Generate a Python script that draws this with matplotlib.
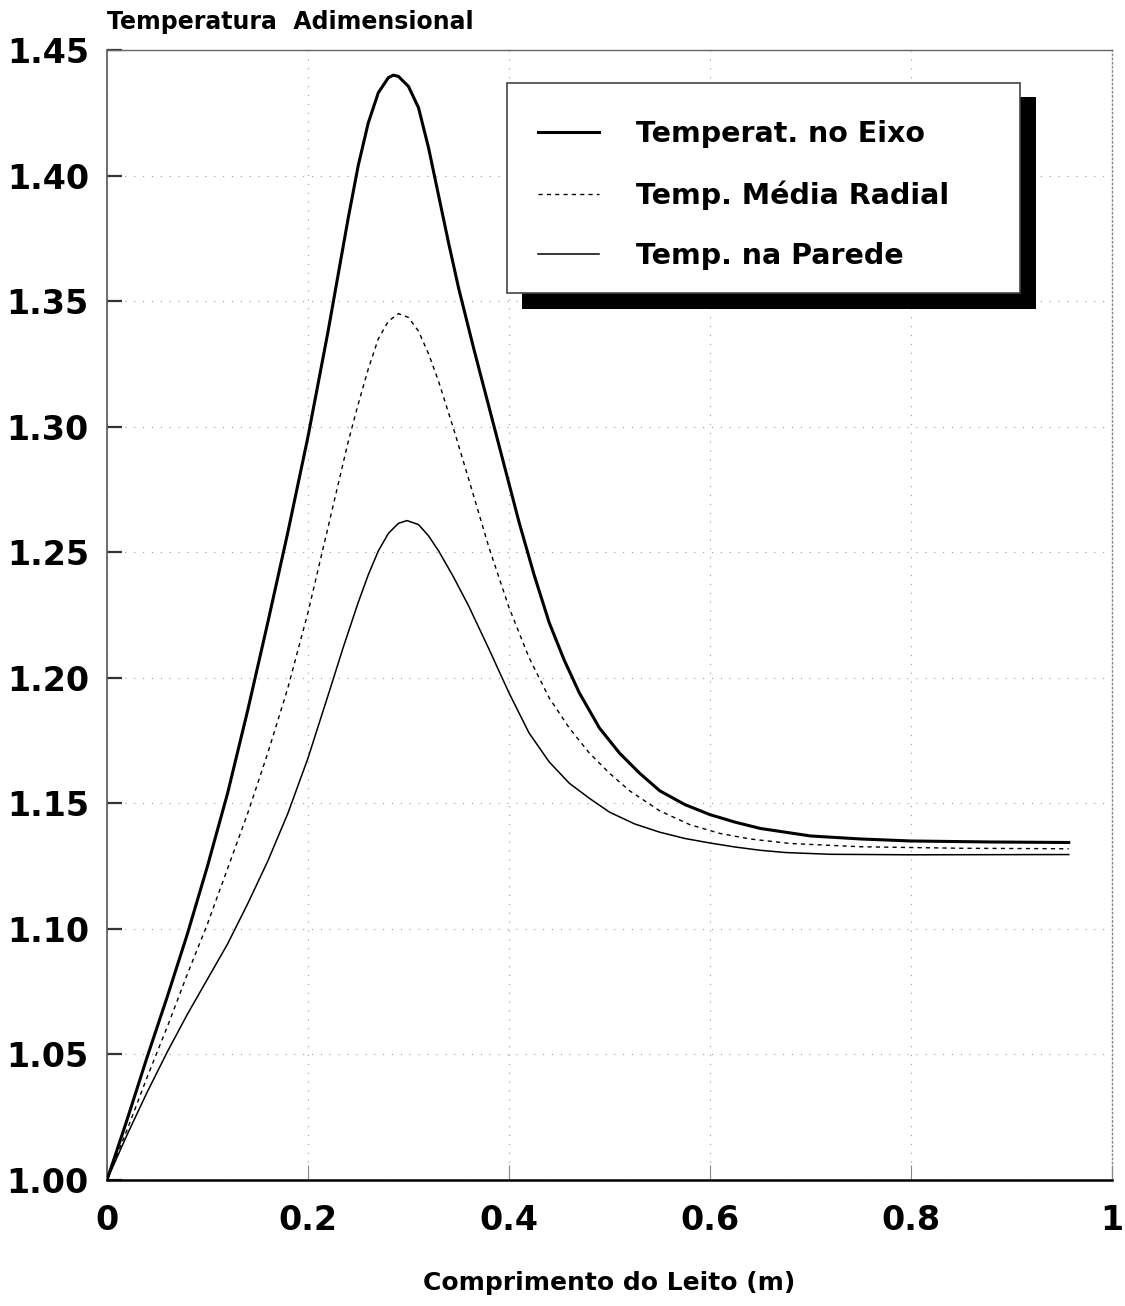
import matplotlib.pyplot as plt
from matplotlib.patches import Rectangle

# perfis axiais de temperatura adimensional no leito
z_eixo = [0.000, 0.020, 0.040, 0.060, 0.080, 0.100, 0.120, 0.140, 0.160, 0.180,
          0.200, 0.220, 0.240, 0.250, 0.260, 0.270, 0.280, 0.285, 0.290, 0.300,
          0.310, 0.320, 0.330, 0.340, 0.350, 0.365, 0.380, 0.395, 0.410, 0.425,
          0.440, 0.455, 0.470, 0.490, 0.510, 0.530, 0.550, 0.575, 0.600, 0.625,
          0.650, 0.700, 0.750, 0.800, 0.880, 0.957]
t_eixo = [1.000, 1.024, 1.049, 1.073, 1.098, 1.125, 1.154, 1.187, 1.222, 1.258,
          1.296, 1.338, 1.383, 1.404, 1.421, 1.433, 1.439, 1.440, 1.4395, 1.4355,
          1.427, 1.411, 1.392, 1.373, 1.355, 1.331, 1.308, 1.285, 1.262, 1.241,
          1.222, 1.207, 1.194, 1.180, 1.170, 1.162, 1.155, 1.1495, 1.1455, 1.1425,
          1.140, 1.137, 1.1358, 1.135, 1.1346, 1.1344]

z_media = [0.000, 0.020, 0.040, 0.060, 0.080, 0.100, 0.120, 0.140, 0.160, 0.180,
           0.200, 0.220, 0.240, 0.250, 0.260, 0.270, 0.280, 0.290, 0.300, 0.310,
           0.320, 0.330, 0.345, 0.360, 0.380, 0.400, 0.420, 0.440, 0.460, 0.480,
           0.500, 0.520, 0.550, 0.580, 0.610, 0.640, 0.680, 0.750, 0.850, 0.957]
t_media = [1.000, 1.020, 1.041, 1.061, 1.082, 1.102, 1.124, 1.146, 1.170, 1.196,
           1.226, 1.260, 1.294, 1.309, 1.323, 1.335, 1.342, 1.345, 1.3435, 1.338,
           1.329, 1.318, 1.299, 1.279, 1.252, 1.228, 1.208, 1.192, 1.180, 1.170,
           1.162, 1.155, 1.147, 1.1415, 1.138, 1.1358, 1.134, 1.1327, 1.1321, 1.1319]

z_parede = [0.000, 0.020, 0.040, 0.060, 0.080, 0.100, 0.120, 0.140, 0.160, 0.180,
            0.200, 0.220, 0.235, 0.250, 0.260, 0.270, 0.280, 0.290, 0.2985, 0.310,
            0.320, 0.330, 0.345, 0.360, 0.380, 0.400, 0.420, 0.440, 0.460, 0.480,
            0.500, 0.525, 0.550, 0.575, 0.600, 0.625, 0.650, 0.675, 0.720, 0.800,
            0.957]
t_parede = [1.000, 1.018, 1.035, 1.051, 1.066, 1.080, 1.094, 1.110, 1.127, 1.146,
            1.168, 1.193, 1.212, 1.230, 1.241, 1.2505, 1.2575, 1.2615, 1.2626, 1.261,
            1.2565, 1.2505, 1.240, 1.2285, 1.2115, 1.194, 1.178, 1.1665, 1.158, 1.152,
            1.1465, 1.1418, 1.1385, 1.136, 1.1342, 1.1326, 1.1313, 1.1304, 1.1297, 1.1295,
            1.1296]

x_ticks = [0, 0.2, 0.4, 0.6, 0.8, 1.0]
x_labels = ["0", "0.2", "0.4", "0.6", "0.8", "1"]
y_ticks = [1.00, 1.05, 1.10, 1.15, 1.20, 1.25, 1.30, 1.35, 1.40, 1.45]

plt.rcParams["font.family"] = ["DejaVu Sans"]

fig = plt.figure(figsize=(11.25, 13.06), dpi=100)
ax = fig.add_axes([0.0951, 0.0965, 0.8933, 0.8652])

ax.plot(z_eixo, t_eixo, color="black", lw=2.2, zorder=3,
        label="Temperat. no Eixo")
ax.plot(z_media, t_media, color="black", lw=1.0, linestyle=(0, (3, 3)),
        zorder=3, label="Temp. Média Radial")
ax.plot(z_parede, t_parede, color="black", lw=1.1, zorder=3,
        label="Temp. na Parede")

ax.set_xlim(0, 1)
ax.set_ylim(1.0, 1.45)
ax.set_xticks(x_ticks)
ax.set_xticklabels(x_labels, fontweight="bold")
ax.set_yticks(y_ticks)
ax.set_yticklabels(["%.2f" % v for v in y_ticks], fontweight="bold")

ax.tick_params(axis="y", direction="in", length=11, width=1.6, color="#333333",
               labelsize=24, pad=13)
ax.tick_params(axis="x", direction="in", length=11, width=0.8, color="#888888",
               labelsize=24, pad=17)

# grade pontilhada fraca
ax.grid(True, color="#999999", lw=0.8, linestyle=(0, (1, 7)))

ax.spines["left"].set_color("#555555")
ax.spines["left"].set_linewidth(1.2)
ax.spines["top"].set_color("#666666")
ax.spines["top"].set_linewidth(1.0)
ax.spines["right"].set_color("#888888")
ax.spines["right"].set_linewidth(1.0)
ax.spines["right"].set_linestyle((0, (1, 2)))
ax.spines["bottom"].set_color("black")
ax.spines["bottom"].set_linewidth(1.8)

ax.text(0.0, 1.025, "Temperatura  Adimensional", transform=ax.transAxes,
        ha="left", va="center", fontsize=17, fontweight="bold")
ax.set_xlabel("Comprimento do Leito (m)", fontsize=18, fontweight="bold",
              labelpad=25)

# caixa da legenda com sombra preta
ax.add_patch(Rectangle((0.413, 0.7708), 0.5114, 0.1876, transform=ax.transAxes,
                       facecolor="black", edgecolor="none", clip_on=False,
                       zorder=4))
ax.add_patch(Rectangle((0.398, 0.785), 0.5105, 0.1858, transform=ax.transAxes,
                       facecolor="white", edgecolor="#444444", lw=1.2,
                       clip_on=False, zorder=5))
leg = ax.legend(loc="center left", bbox_to_anchor=(0.4289, 0.8718),
                frameon=False, borderpad=0, borderaxespad=0,
                handlelength=2.15, handletextpad=1.3, labelspacing=1.12,
                prop={"size": 20.5, "weight": "bold"})
leg.set_zorder(6)

fig.savefig("out.png", dpi=100, facecolor="white")
